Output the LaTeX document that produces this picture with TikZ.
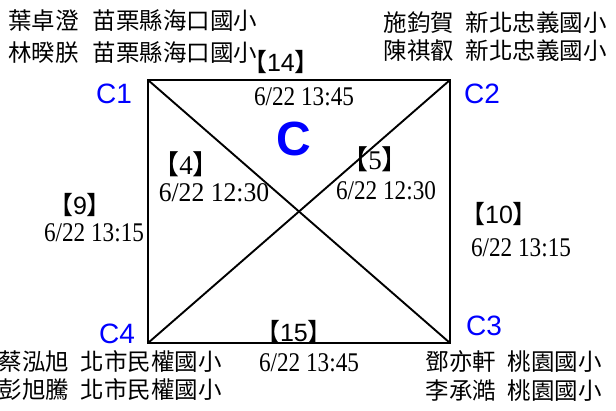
\documentclass[tikz,border=0pt]{standalone}
\usepackage{fontspec}
\setmainfont{Liberation Serif}
\newfontfamily\cjk{Noto Sans CJK TC}
\newfontfamily\arial{Liberation Sans}
\newcommand{\dtxt}[2][0.86]{\scalebox{#1}[1]{\fontsize{27}{27}\selectfont #2}}
\begin{document}
\begin{tikzpicture}[x=1pt,y=-1pt,
  edge/.style={line width=1.9pt, black},
  person/.style={font=\cjk\fontsize{23.5}{23.5}\selectfont, inner sep=0pt},
  corner/.style={font=\arial\fontsize{28}{28}\selectfont, text=blue, inner sep=0pt, anchor=base west},
  brk/.style={font=\arial\fontsize{25}{25}\selectfont, inner sep=0pt, anchor=base},
  brkt/.style={font=\fontsize{27}{27}\selectfont, inner sep=0pt, anchor=base},
  dt/.style={inner sep=0pt, anchor=base}]
\useasboundingbox (0,0) rectangle (616,410);
\coordinate (c1) at (148,80);
\coordinate (c2) at (450,80);
\coordinate (c3) at (450,343);
\coordinate (c4) at (148,343);
\draw[edge] (c1) -- (c2) -- (c3) -- (c4) -- cycle;
\draw[edge] (c1) -- (c3);
\draw[edge] (c2) -- (c4);
% names
\node[person, anchor=base west] (n1) at (8,29) {葉卓澄\hspace{0.6em}苗栗縣海口國小};
\node[person, anchor=base west] (n2) at (8,61) {林暌朕\hspace{0.6em}苗栗縣海口國小};
\node[person, anchor=base east] (n3) at (607,31) {施鈞賀\hspace{0.5em}新北忠義國小};
\node[person, anchor=base east] (n4) at (607,59) {陳祺叡\hspace{0.5em}新北忠義國小};
\node[person, anchor=base east] (n5) at (222,370) {蔡泓旭\hspace{0.5em}北市民權國小};
\node[person, anchor=base east] (n6) at (222,398) {彭旭騰\hspace{0.5em}北市民權國小};
\node[person, anchor=base east] (n7) at (602,370) {鄧亦軒\hspace{0.5em}桃園國小};
\node[person, anchor=base east] (n8) at (602,399) {李承澔\hspace{0.5em}桃園國小};
% corner labels
\node[corner] (l1) at (96,103) {C1};
\node[corner] (l2) at (464,103) {C2};
\node[corner] (l3) at (466,335) {C3};
\node[corner] (l4) at (99,343) {C4};
\node[font=\arial\bfseries\fontsize{48}{48}\selectfont, text=blue, inner sep=0pt, anchor=base] (cc) at (294,155) {C};
% match labels
\node[brk] (b14) at (281,71) {{\cjk 【}14{\cjk 】}};
\node[brk] (b9) at (80,214) {{\cjk 【}9{\cjk 】}};
\node[brk] (b10) at (499,223) {{\cjk 【}10{\cjk 】}};
\node[brk] (b15) at (294,341) {{\cjk 【}15{\cjk 】}};
\node[brkt] (b4) at (186,174) {{\cjk 【}4{\cjk 】}};
\node[brkt] (b5) at (375,169) {{\cjk 【}5{\cjk 】}};
% dates
\node[dt] (d14) at (304,105) {\dtxt{6/22 13:45}};
\node[dt] (d9) at (94,241) {\dtxt{6/22 13:15}};
\node[dt] (d4) at (214,201) {\dtxt[0.95]{6/22 12:30}};
\node[dt] (d5) at (386,199) {\dtxt{6/22 12:30}};
\node[dt] (d10) at (521,256) {\dtxt{6/22 13:15}};
\node[dt] (d15) at (309,371) {\dtxt{6/22 13:45}};
\end{tikzpicture}
\end{document}
